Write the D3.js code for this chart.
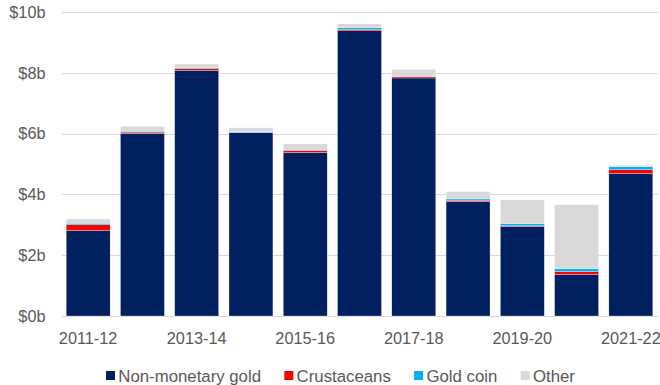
<!DOCTYPE html>
<html>
<head>
<meta charset="utf-8">
<script src="https://cdn.jsdelivr.net/npm/d3@7"></script>
<style>
  html, body { margin: 0; padding: 0; background: #fff; }
  svg { display: block; }
  text { font-family: "Liberation Sans", Arial, sans-serif; fill: #595959; }
</style>
</head>
<body>
<svg id="chart" width="660" height="385"></svg>
<script>
// Export values by financial year, $ billions
const years = ["2011-12","2012-13","2013-14","2014-15","2015-16","2016-17","2017-18","2018-19","2019-20","2020-21","2021-22"];
const nonMonetaryGold = [2.81, 6.01, 8.08, 6.03, 5.38, 9.38, 7.83, 3.77, 2.95, 1.37, 4.69];
const crustaceans     = [0.19, 0.04, 0.06, 0.01, 0.07, 0.05, 0.04, 0.04, 0.02, 0.09, 0.12];
const goldCoin        = [0.05, 0.03, 0.03, 0.03, 0.01, 0.05, 0.01, 0.04, 0.07, 0.09, 0.10];
const other           = [0.14, 0.16, 0.12, 0.12, 0.20, 0.13, 0.23, 0.24, 0.78, 2.11, 0.05];
const yTicks = [0, 2, 4, 6, 8, 10];
const xLabelYears = ["2011-12","2013-14","2015-16","2017-18","2019-20","2021-22"];

const seriesNames = ["Non-monetary gold", "Crustaceans", "Gold coin", "Other"];
const seriesValues = [nonMonetaryGold, crustaceans, goldCoin, other];
const colors = ["#002060", "#FF0000", "#00B0F0", "#D9D9D9"];

const svg = d3.select("#chart");
const axisFont = 16.3;
const legendFont = 16.8;

const x = d3.scaleBand().domain(years).range([61, 658]).paddingInner(0.19).paddingOuter(0.095);
const y = d3.scaleLinear().domain([0, 10]).range([316, 12]);

// gridlines
svg.append("g").selectAll("line").data(yTicks).join("line")
  .attr("x1", 61).attr("x2", 658)
  .attr("y1", d => Math.round(y(d)) + 0.5).attr("y2", d => Math.round(y(d)) + 0.5)
  .attr("stroke", "#D9D9D9").attr("stroke-width", 1);

// y tick labels
svg.append("g").selectAll("text").data(yTicks).join("text")
  .attr("x", 45.5).attr("y", d => y(d)).attr("dy", "0.36em")
  .attr("text-anchor", "end").style("font-size", axisFont + "px")
  .text(d => "$" + d + "b");

// stacked bars
const table = years.map((yr, i) => {
  const row = { year: yr };
  seriesNames.forEach((s, k) => row[s] = seriesValues[k][i]);
  return row;
});
const stacked = d3.stack().keys(seriesNames)(table);

svg.append("g").selectAll("g").data(stacked).join("g")
  .attr("fill", (d, k) => colors[k])
  .selectAll("rect").data(d => d).join("rect")
  .attr("x", d => x(d.data.year))
  .attr("width", x.bandwidth())
  .attr("y", d => y(d[1]))
  .attr("height", d => y(d[0]) - y(d[1]))
  .attr("stroke", "#fff").attr("stroke-width", 0.3);

// x labels (every second year)
svg.append("g").selectAll("text").data(xLabelYears).join("text")
  .attr("x", d => x(d) + x.bandwidth() / 2).attr("y", 343.5)
  .attr("text-anchor", "middle").style("font-size", axisFont + "px")
  .text(d => d);

// legend
const legend = svg.append("g");
let lx = 106;
seriesNames.forEach((name, k) => {
  legend.append("rect").attr("x", lx).attr("y", 371).attr("width", 9).attr("height", 9).attr("fill", colors[k]);
  const t = legend.append("text").attr("x", lx + 12.3).attr("y", 381.5)
    .style("font-size", legendFont + "px").text(name);
  lx += 12.3 + t.node().getComputedTextLength() + 23.3;
});
</script>
</body>
</html>
